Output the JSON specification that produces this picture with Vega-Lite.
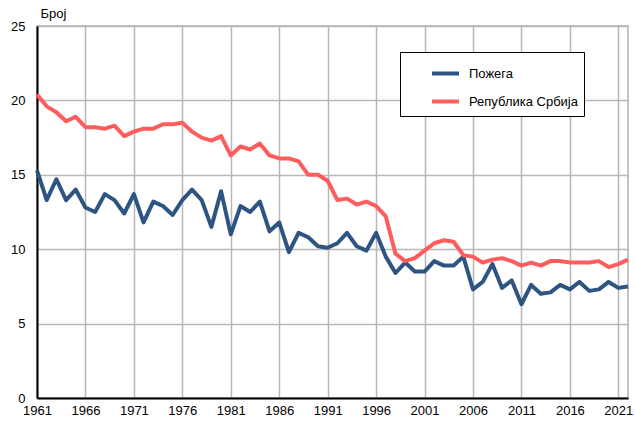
{
  "$schema": "https://vega.github.io/schema/vega-lite/v6.json",
  "width": 591,
  "height": 372,
  "autosize": {"type": "none"},
  "padding": {"left": 37, "top": 26, "right": 7, "bottom": 23},
  "background": "white",
  "config": {
    "font": "Liberation Sans",
    "view": {"stroke": "#b0b0b0", "strokeWidth": 1.5}
  },
  "data": {
    "values": [
      {"year":1961,"series":"Пожега","value":15.3},{"year":1962,"series":"Пожега","value":13.3},{"year":1963,"series":"Пожега","value":14.7},{"year":1964,"series":"Пожега","value":13.3},{"year":1965,"series":"Пожега","value":14.0},{"year":1966,"series":"Пожега","value":12.8},{"year":1967,"series":"Пожега","value":12.5},{"year":1968,"series":"Пожега","value":13.7},{"year":1969,"series":"Пожега","value":13.3},{"year":1970,"series":"Пожега","value":12.4},
      {"year":1971,"series":"Пожега","value":13.7},{"year":1972,"series":"Пожега","value":11.8},{"year":1973,"series":"Пожега","value":13.2},{"year":1974,"series":"Пожега","value":12.9},{"year":1975,"series":"Пожега","value":12.3},{"year":1976,"series":"Пожега","value":13.3},{"year":1977,"series":"Пожега","value":14.0},{"year":1978,"series":"Пожега","value":13.3},{"year":1979,"series":"Пожега","value":11.5},{"year":1980,"series":"Пожега","value":13.9},
      {"year":1981,"series":"Пожега","value":11.0},{"year":1982,"series":"Пожега","value":12.9},{"year":1983,"series":"Пожега","value":12.5},{"year":1984,"series":"Пожега","value":13.2},{"year":1985,"series":"Пожега","value":11.2},{"year":1986,"series":"Пожега","value":11.8},{"year":1987,"series":"Пожега","value":9.8},{"year":1988,"series":"Пожега","value":11.1},{"year":1989,"series":"Пожега","value":10.8},{"year":1990,"series":"Пожега","value":10.2},
      {"year":1991,"series":"Пожега","value":10.1},{"year":1992,"series":"Пожега","value":10.4},{"year":1993,"series":"Пожега","value":11.1},{"year":1994,"series":"Пожега","value":10.2},{"year":1995,"series":"Пожега","value":9.9},{"year":1996,"series":"Пожега","value":11.1},{"year":1997,"series":"Пожега","value":9.5},{"year":1998,"series":"Пожега","value":8.4},{"year":1999,"series":"Пожега","value":9.1},{"year":2000,"series":"Пожега","value":8.5},
      {"year":2001,"series":"Пожега","value":8.5},{"year":2002,"series":"Пожега","value":9.2},{"year":2003,"series":"Пожега","value":8.9},{"year":2004,"series":"Пожега","value":8.9},{"year":2005,"series":"Пожега","value":9.5},{"year":2006,"series":"Пожега","value":7.3},{"year":2007,"series":"Пожега","value":7.8},{"year":2008,"series":"Пожега","value":9.0},{"year":2009,"series":"Пожега","value":7.4},{"year":2010,"series":"Пожега","value":7.9},
      {"year":2011,"series":"Пожега","value":6.3},{"year":2012,"series":"Пожега","value":7.6},{"year":2013,"series":"Пожега","value":7.0},{"year":2014,"series":"Пожега","value":7.1},{"year":2015,"series":"Пожега","value":7.6},{"year":2016,"series":"Пожега","value":7.3},{"year":2017,"series":"Пожега","value":7.8},{"year":2018,"series":"Пожега","value":7.2},{"year":2019,"series":"Пожега","value":7.3},{"year":2020,"series":"Пожега","value":7.8},
      {"year":2021,"series":"Пожега","value":7.4},{"year":2022,"series":"Пожега","value":7.5},
      {"year":1961,"series":"Република Србија","value":20.4},{"year":1962,"series":"Република Србија","value":19.6},{"year":1963,"series":"Република Србија","value":19.2},{"year":1964,"series":"Република Србија","value":18.6},{"year":1965,"series":"Република Србија","value":18.9},{"year":1966,"series":"Република Србија","value":18.2},{"year":1967,"series":"Република Србија","value":18.2},{"year":1968,"series":"Република Србија","value":18.1},{"year":1969,"series":"Република Србија","value":18.3},{"year":1970,"series":"Република Србија","value":17.6},
      {"year":1971,"series":"Република Србија","value":17.9},{"year":1972,"series":"Република Србија","value":18.1},{"year":1973,"series":"Република Србија","value":18.1},{"year":1974,"series":"Република Србија","value":18.4},{"year":1975,"series":"Република Србија","value":18.4},{"year":1976,"series":"Република Србија","value":18.5},{"year":1977,"series":"Република Србија","value":17.9},{"year":1978,"series":"Република Србија","value":17.5},{"year":1979,"series":"Република Србија","value":17.3},{"year":1980,"series":"Република Србија","value":17.6},
      {"year":1981,"series":"Република Србија","value":16.3},{"year":1982,"series":"Република Србија","value":16.9},{"year":1983,"series":"Република Србија","value":16.7},{"year":1984,"series":"Република Србија","value":17.1},{"year":1985,"series":"Република Србија","value":16.3},{"year":1986,"series":"Република Србија","value":16.1},{"year":1987,"series":"Република Србија","value":16.1},{"year":1988,"series":"Република Србија","value":15.9},{"year":1989,"series":"Република Србија","value":15.0},{"year":1990,"series":"Република Србија","value":15.0},
      {"year":1991,"series":"Република Србија","value":14.6},{"year":1992,"series":"Република Србија","value":13.3},{"year":1993,"series":"Република Србија","value":13.4},{"year":1994,"series":"Република Србија","value":13.0},{"year":1995,"series":"Република Србија","value":13.2},{"year":1996,"series":"Република Србија","value":12.9},{"year":1997,"series":"Република Србија","value":12.2},{"year":1998,"series":"Република Србија","value":9.7},{"year":1999,"series":"Република Србија","value":9.2},{"year":2000,"series":"Република Србија","value":9.4},
      {"year":2001,"series":"Република Србија","value":9.9},{"year":2002,"series":"Република Србија","value":10.4},{"year":2003,"series":"Република Србија","value":10.6},{"year":2004,"series":"Република Србија","value":10.5},{"year":2005,"series":"Република Србија","value":9.6},{"year":2006,"series":"Република Србија","value":9.5},{"year":2007,"series":"Република Србија","value":9.1},{"year":2008,"series":"Република Србија","value":9.3},{"year":2009,"series":"Република Србија","value":9.4},{"year":2010,"series":"Република Србија","value":9.2},
      {"year":2011,"series":"Република Србија","value":8.9},{"year":2012,"series":"Република Србија","value":9.1},{"year":2013,"series":"Република Србија","value":8.9},{"year":2014,"series":"Република Србија","value":9.2},{"year":2015,"series":"Република Србија","value":9.2},{"year":2016,"series":"Република Србија","value":9.1},{"year":2017,"series":"Република Србија","value":9.1},{"year":2018,"series":"Република Србија","value":9.1},{"year":2019,"series":"Република Србија","value":9.2},{"year":2020,"series":"Република Србија","value":8.8},
      {"year":2021,"series":"Република Србија","value":9.0},{"year":2022,"series":"Република Србија","value":9.3}
    ]
  },
  "mark": {"type": "line", "strokeWidth": 4, "strokeJoin": "round"},
  "encoding": {
    "x": {
      "field": "year", "type": "quantitative",
      "scale": {"domain": [1961, 2022], "nice": false, "zero": false},
      "axis": {
        "values": [1961,1966,1971,1976,1981,1986,1991,1996,2001,2006,2011,2016,2021],
        "format": "d", "title": null,
        "grid": true, "gridColor": "#b8b8b8", "gridWidth": 1.5,
        "domainColor": "#000000", "domainWidth": 2,
        "ticks": false, "labelPadding": 6,
        "labelFontSize": 13, "labelColor": "#000000",
        "labelFlush": false, "labelOverlap": false
      }
    },
    "y": {
      "field": "value", "type": "quantitative",
      "scale": {"domain": [0, 25], "nice": false},
      "axis": {
        "values": [0,5,10,15,20,25],
        "title": "Број", "titleAngle": 0, "titleAlign": "left", "titleBaseline": "alphabetic",
        "titleX": 3, "titleY": -9, "titleFontSize": 13, "titleFontWeight": "normal", "titleColor": "#000000",
        "grid": true, "gridColor": "#b8b8b8", "gridWidth": 1.5,
        "domainColor": "#000000", "domainWidth": 2,
        "ticks": false, "labelPadding": 12,
        "labelFontSize": 13, "labelColor": "#000000"
      }
    },
    "color": {
      "field": "series", "type": "nominal",
      "scale": {"domain": ["Пожега", "Република Србија"], "range": ["#2E5482", "#FF5D5D"]},
      "legend": {
        "title": null, "orient": "none", "legendX": 363, "legendY": 26,
        "direction": "vertical",
        "fillColor": "white", "strokeColor": "#000000",
        "padding": 6, "rowPadding": 4,
        "symbolType": "stroke", "symbolSize": 729, "symbolStrokeWidth": 4,
        "symbolOffset": 24,
        "labelFontSize": 13, "labelColor": "#000000", "labelOffset": 8, "labelLimit": 300
      }
    }
  }
}
